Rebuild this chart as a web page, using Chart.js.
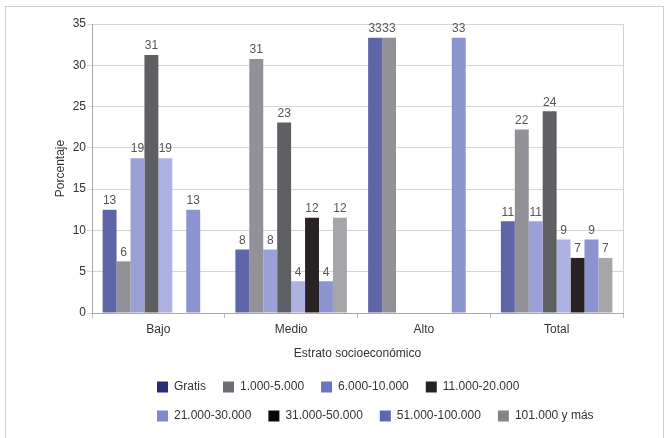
<!DOCTYPE html>
<html>
<head>
<meta charset="utf-8">
<script src="https://cdn.jsdelivr.net/npm/chart.js@4.4.1/dist/chart.umd.min.js"></script>
<style>
  html, body { margin: 0; padding: 0; background: #ffffff; }
  #wrap { width: 670px; height: 438px; position: relative; }
</style>
</head>
<body>
<div id="wrap"><canvas id="c" width="670" height="438"></canvas></div>
<script>
// ---- Data ----
const categories = ['Bajo', 'Medio', 'Alto', 'Total'];
const seriesNames = ['Gratis', '1.000-5.000', '6.000-10.000', '11.000-20.000',
                     '21.000-30.000', '31.000-50.000', '51.000-100.000', '101.000 y más'];
const gratis        = [12.5,  7.69, 33.33, 11.11];
const s1000_5000    = [6.25, 30.77, 33.33, 22.22];
const s6000_10000   = [18.75, 7.69, 0,     11.11];
const s11000_20000  = [31.25, 23.08, 0,    24.44];
const s21000_30000  = [18.75, 3.85, 0,      8.89];
const s31000_50000  = [0,    11.54, 0,      6.67];
const s51000_100000 = [12.5,  3.85, 33.33,  8.89];
const s101000_mas   = [0,    11.54, 0,      6.67];
const yTicks = [0, 5, 10, 15, 20, 25, 30, 35];

// ---- Styles ----
const barColors = ['#5f66a8', '#919197', '#9ba1d6', '#5e5f63',
                   '#aeb2e2', '#282224', '#8c94d0', '#a5a5aa'];
const legendColors = ['#262c78', '#6c6c72', '#6a74c2', '#232326',
                      '#7e88cc', '#080808', '#5c66b6', '#84848a'];
const FONT = '"Liberation Sans", Arial, Helvetica, sans-serif';

const seriesValues = [gratis, s1000_5000, s6000_10000, s11000_20000,
                      s21000_30000, s31000_50000, s51000_100000, s101000_mas];

const datasets = seriesNames.map((name, i) => ({
  label: name,
  data: seriesValues[i],
  backgroundColor: barColors[i],
  borderWidth: 0,
  categoryPercentage: 0.84,
  barPercentage: 1.0
}));

// value labels above bars
const valueLabels = {
  id: 'valueLabels',
  afterDatasetsDraw(chart) {
    const ctx = chart.ctx;
    ctx.save();
    ctx.font = '12px ' + FONT;
    ctx.fillStyle = '#555555';
    ctx.textAlign = 'center';
    ctx.textBaseline = 'bottom';
    chart.data.datasets.forEach((ds, di) => {
      const meta = chart.getDatasetMeta(di);
      meta.data.forEach((bar, j) => {
        const v = ds.data[j];
        if (v > 0) ctx.fillText(String(Math.round(v)), bar.x, bar.y - 3);
      });
    });
    ctx.restore();
  }
};

// frame and plot right border
const frame = {
  id: 'frame',
  beforeDraw(chart) {
    const ctx = chart.ctx;
    ctx.save();
    ctx.strokeStyle = '#cdcdcd';
    ctx.lineWidth = 1;
    ctx.strokeRect(5.5, 6.5, 658, 440);
    ctx.restore();
  },
  beforeDatasetsDraw(chart) {
    const {ctx, chartArea} = chart;
    ctx.save();
    ctx.strokeStyle = '#d2d2d2';
    ctx.lineWidth = 1;
    ctx.beginPath();
    ctx.moveTo(Math.round(chartArea.right) + 0.5, chartArea.top);
    ctx.lineTo(Math.round(chartArea.right) + 0.5, chartArea.bottom);
    ctx.stroke();
    ctx.restore();
  }
};

// place legend rows (left aligned, 4 items per row)
const legendPlacer = {
  id: 'legendPlacer',
  afterLayout(chart) {
    const lg = chart.legend;
    lg.left = 140;
    lg.right = 630;
  }
};

new Chart(document.getElementById('c'), {
  type: 'bar',
  data: { labels: categories, datasets },
  plugins: [valueLabels, frame, legendPlacer],
  options: {
    responsive: false,
    animation: false,
    devicePixelRatio: 1,
    layout: { padding: { left: 0, right: 47, top: 24, bottom: 6 } },
    plugins: {
      tooltip: { enabled: false },
      legend: {
        position: 'bottom',
        align: 'start',
        labels: {
          boxWidth: 11,
          boxHeight: 11,
          padding: 17,
          color: '#333333',
          font: { family: FONT, size: 12 },
          generateLabels(chart) {
            return chart.data.datasets.map((ds, i) => ({
              text: ds.label,
              fillStyle: legendColors[i],
              strokeStyle: legendColors[i],
              lineWidth: 0,
              hidden: false,
              datasetIndex: i,
              fontColor: '#333333'
            }));
          }
        }
      }
    },
    scales: {
      x: {
        grid: { display: true, drawOnChartArea: false, drawTicks: true, tickLength: 5, color: '#bdbdbd' },
        border: { display: true, color: '#a8a8a8' },
        ticks: { color: '#333333', font: { family: FONT, size: 12 }, padding: 4 },
        title: {
          display: true,
          text: 'Estrato socioeconómico',
          color: '#333333',
          font: { family: FONT, size: 12 },
          padding: { top: 0, bottom: 3 }
        },
        afterFit(scale) { scale.height = 51; }
      },
      y: {
        min: 0,
        max: 35,
        afterBuildTicks(scale) { scale.ticks = yTicks.map(v => ({ value: v })); },
        grid: { color: '#d6d6d6', drawTicks: true, tickLength: 5 },
        border: { display: true, color: '#a8a8a8' },
        ticks: { color: '#333333', font: { family: FONT, size: 12 }, padding: 1 },
        title: {
          display: true,
          text: 'Porcentaje',
          color: '#333333',
          font: { family: FONT, size: 12 },
          padding: { top: 53, bottom: 0 }
        },
        afterFit(scale) { scale.width = 92; }
      }
    }
  }
});
</script>
</body>
</html>
